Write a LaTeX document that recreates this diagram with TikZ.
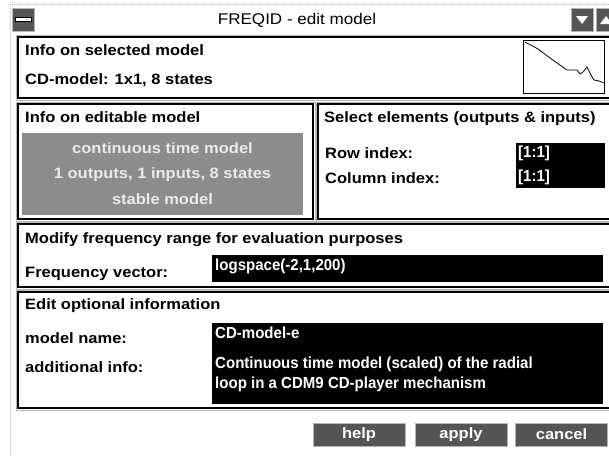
\documentclass[tikz,border=0pt]{standalone}
\usepackage{fontspec}
\setmainfont{Liberation Sans}[FakeStretch=1.1]
\newfontfamily\fieldfont{Liberation Sans}[FakeStretch=0.94]
\definecolor{dither}{HTML}{8C8C8C}
\definecolor{darkbtn}{HTML}{555555}
\definecolor{bevel}{HTML}{B4B4B4}
\begin{document}
\begin{tikzpicture}[x=1pt,y=-1pt,
  frame/.style={draw=black, line width=1.3pt},
  frameshade/.style={draw=gray!55, line width=0.8pt},
  lbl/.style={anchor=base west, inner sep=0pt, font=\bfseries\fontsize{15}{18}\selectfont},
  fieldtxt/.style={anchor=base west, inner sep=0pt, text=white, font=\fieldfont\bfseries\fontsize{16}{19}\selectfont},
  field/.style={fill=black},
  infotxt/.style={anchor=base, inner sep=0pt, text=white!92!black, font=\bfseries\fontsize{15}{18}\selectfont},
  btn/.style={fill=darkbtn, draw=bevel, line width=1pt, minimum width=92pt, minimum height=23pt,
    inner sep=0pt, text=white, font=\bfseries\fontsize{15}{18}\selectfont},
  tbtn/.style={fill=darkbtn, draw=gray!60, line width=0.6pt},
  winborder/.style={draw=gray!60, line width=0.8pt, dash pattern=on 1pt off 1pt}
]
\useasboundingbox (0,0) rectangle (609,455);
\clip (0,0) rectangle (609,455);
\fill[white] (0,0) rectangle (609,455);

% window outline
\draw[winborder] (10,4) -- (612,4);
\draw[winborder] (10,4) -- (10,456);

% title bar
\node[anchor=base, inner sep=0pt, font=\fontsize{15.5}{18}\selectfont] (title) at (297,24) {FREQID - edit model};
\fill[tbtn] (12,8) rectangle (34,31);
\draw[fill=white, draw=black, line width=0.6pt] (15,17.5) rectangle (31,21.5);
\fill[tbtn] (571,8) rectangle (593,31);
\fill[white] (576,16) -- (588,16) -- (582,24) -- cycle;
\fill[tbtn] (596,8) rectangle (618,31);
\fill[white] (600,24) -- (612,24) -- (606,16) -- cycle;

% frame: info on selected model
\draw[frameshade] (16,35) rectangle (620,100);
\draw[frame] (18,37) rectangle (618,98);
\node[lbl] (selhead) at (25,55) {Info on selected model};
\node[lbl] (selinfo) at (25,84) {CD-model: 1x1, 8 states};
\draw[black, line width=0.9pt, fill=white] (523,40) rectangle (604,93);
\begin{scope}
  \clip (523,40) rectangle (604,93);
  \draw[black, line width=0.8pt] (525,42) -- (538,49) -- (550,58) -- (560,65) -- (567,70)
    -- (577,70) -- (580,74) -- (583,72) -- (587,67) -- (591,75) -- (594,80) -- (599,81) -- (604,83);
\end{scope}

% frame: info on editable model
\draw[frameshade] (16,102) rectangle (315,221);
\draw[frame] (18,104) rectangle (313,219);
\node[lbl] (edhead) at (25,122) {Info on editable model};
\fill[dither] (22,133) rectangle (303,215);
\node[infotxt] (ed1) at (162.5,153) {continuous time model};
\node[infotxt] (ed2) at (162.5,178) {1 outputs, 1 inputs, 8 states};
\node[infotxt] (ed3) at (162.5,204) {stable model};

% frame: select elements
\draw[frameshade] (316,102) rectangle (620,221);
\draw[frame] (318,104) rectangle (618,219);
\node[lbl] (elhead) at (324,122) {Select elements (outputs \& inputs)};
\node[lbl] (rowlbl) at (325,158) {Row index:};
\node[lbl] (collbl) at (325,183) {Column index:};
\fill[field] (516,143) rectangle (605,188);
\node[fieldtxt] (rowval) at (518,157) {[1:1]};
\node[fieldtxt] (colval) at (518,181) {[1:1]};

% frame: frequency range
\draw[frameshade] (16,222) rectangle (620,289);
\draw[frame] (18,224) rectangle (618,287);
\node[lbl] (frhead) at (25,243) {Modify frequency range for evaluation purposes};
\node[lbl] (frlbl) at (25,277) {Frequency vector:};
\fill[field] (212,255) rectangle (603,282);
\node[fieldtxt] (frval) at (215,270) {logspace(-2,1,200)};

% frame: optional information
\draw[frameshade] (16,290) rectangle (620,410);
\draw[frame] (18,292) rectangle (618,408);
\node[lbl] (ophead) at (25,309) {Edit optional information};
\node[lbl] (namelbl) at (25,343) {model name:};
\node[lbl] (addlbl) at (25,372) {additional info:};
\fill[field] (212,323) rectangle (603,404);
\node[fieldtxt] (nameval) at (215,338) {CD-model-e};
\node[fieldtxt] (addval1) at (215,368) {Continuous time model (scaled) of the radial};
\node[fieldtxt] (addval2) at (215,388) {loop in a CDM9 CD-player mechanism};

% buttons
\node[btn] (help) at (359,434.5) {help};
\node[btn] (apply) at (461,434.5) {apply};
\node[btn] (cancel) at (561.5,434.5) {cancel};
\end{tikzpicture}
\end{document}
